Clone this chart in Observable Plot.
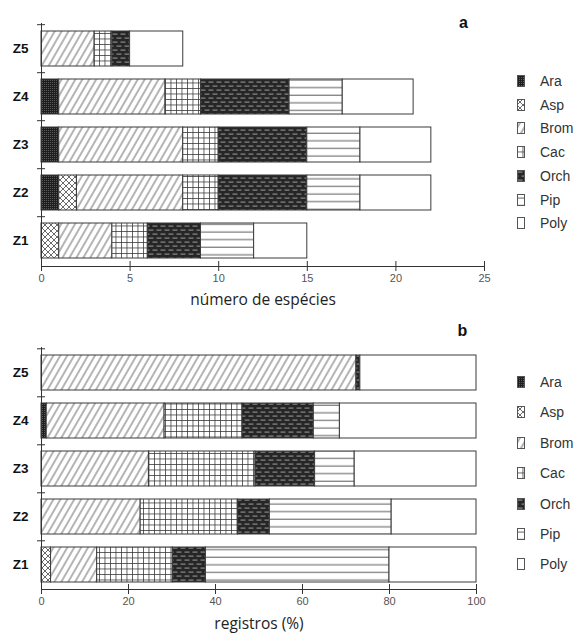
<!DOCTYPE html>
<html><head><meta charset="utf-8">
<script src="https://cdn.jsdelivr.net/npm/d3@7"></script>
<script src="https://cdn.jsdelivr.net/npm/@observablehq/plot@0.6"></script>
<style>
body{margin:0;background:#fff;}
#wrap{position:relative;width:577px;height:635px;overflow:hidden;}
#wrap > svg{position:absolute;left:0;}
.legend{position:absolute;left:0;top:0;font-family:Arial,"Liberation Sans",sans-serif;font-size:14px;color:#333;}
.item{position:absolute;white-space:nowrap;}
.item svg{position:absolute;left:0;}
.item span{position:absolute;left:23px;line-height:16px;}
</style></head><body>
<svg width="0" height="0" style="position:absolute">
<defs>
  <pattern id="pat-Ara" patternUnits="userSpaceOnUse" width="2" height="2">
    <rect width="2" height="2" fill="#1e1e1e"/><rect width="1" height="1" fill="#5a5a5a"/>
  </pattern>
  <pattern id="pat-Asp" patternUnits="userSpaceOnUse" width="6" height="6">
    <rect width="6" height="6" fill="#fff"/>
    <path d="M0,0L6,6M6,0L0,6" stroke="#444" stroke-width="0.8"/>
  </pattern>
  <pattern id="pat-Brom" patternUnits="userSpaceOnUse" width="6" height="6" patternTransform="rotate(30)">
    <rect width="6" height="6" fill="#fff"/>
    <line x1="3" y1="0" x2="3" y2="6" stroke="#444" stroke-width="0.8"/>
  </pattern>
  <pattern id="pat-Cac" patternUnits="userSpaceOnUse" width="5.5" height="5.5">
    <rect width="5.5" height="5.5" fill="#fff"/>
    <path d="M0,0.4H5.5M0.4,0V5.5" stroke="#333" stroke-width="0.8"/>
  </pattern>
  <pattern id="pat-Orch" patternUnits="userSpaceOnUse" width="8" height="8">
    <rect width="8" height="8" fill="#262626"/>
    <rect x="0.5" y="1.5" width="5" height="1.2" fill="#8a8a8a"/>
    <rect x="4.5" y="5.5" width="5" height="1.2" fill="#8a8a8a"/>
    <rect x="-3.5" y="5.5" width="5" height="1.2" fill="#8a8a8a"/>
  </pattern>
  <pattern id="pat-Pip" patternUnits="userSpaceOnUse" width="8" height="7.6">
    <rect width="8" height="7.6" fill="#fff"/>
    <line x1="0" y1="4" x2="8" y2="4" stroke="#444" stroke-width="0.9"/>
  </pattern>
  <pattern id="pat-Poly" patternUnits="userSpaceOnUse" width="4" height="4">
    <rect width="4" height="4" fill="#fff"/>
  </pattern>
</defs></svg>
<div id="wrap"></div>
<script>
// categories (values listed in order Z1..Z5)
const zones = ["Z1","Z2","Z3","Z4","Z5"];
const species = ["Ara","Asp","Brom","Cac","Orch","Pip","Poly"];

// panel a: número de espécies
const araA  = [0, 1, 1, 1, 0];
const aspA  = [1, 1, 0, 0, 0];
const bromA = [3, 6, 7, 6, 3];
const cacA  = [2, 2, 2, 2, 1];
const orchA = [3, 5, 5, 5, 1];
const pipA  = [3, 3, 3, 3, 0];
const polyA = [3, 4, 4, 4, 3];

// panel b: registros (%)
const araB  = [0, 0, 0, 1.2, 0];
const aspB  = [2.2, 0, 0, 0, 0];
const bromB = [10.6, 22.8, 24.7, 27.1, 72.4];
const cacB  = [17.4, 22.4, 24.5, 17.9, 0];
const orchB = [7.6, 7.3, 13.7, 16.4, 0.9];
const pipB  = [42.2, 28.0, 9.1, 6.0, 0];
const polyB = [20.0, 19.5, 28.0, 31.4, 26.7];

const ticksA = [0, 5, 10, 15, 20, 25];
const ticksB = [0, 20, 40, 60, 80, 100];

function rowsOf(series) {
  const rows = [];
  species.forEach((s, k) => series[k].forEach((v, i) => { if (v > 0) rows.push({zone: zones[i], species: s, value: v}); }));
  return rows;
}

const font = "Arial, 'Liberation Sans', sans-serif";

function panel({rows, ticks, xLabel, letter, height, marginTop, marginBottom, marginRight, labelDy, letterDx, letterDy}) {
  const step = (height - marginTop - marginBottom) / zones.length;
  return Plot.plot({
    width: 577, height, marginTop, marginBottom, marginLeft: 41, marginRight,
    style: {fontFamily: font, fontSize: "11px", color: "#222", background: "white", overflow: "visible"},
    x: {domain: [ticks[0], ticks[ticks.length - 1]], ticks},
    y: {domain: zones.slice().reverse(), paddingInner: 0.28, paddingOuter: 0.14},
    color: {domain: species, range: species.map(s => `url(#pat-${s})`)},
    marks: [
      Plot.barX(rows, Plot.stackX({x: "value", y: "zone", fill: "species", stroke: "#3a3a3a", strokeWidth: 1})),
      Plot.frame({anchor: "bottom", stroke: "#333"}),
      Plot.ruleX([0], {stroke: "#333"}),
      Plot.axisX({ticks, text: null, tickSize: 10, dy: -5, stroke: "#333", label: null}),
      Plot.axisX({ticks, tickSize: 0, tickPadding: 8, fill: "#555", fontSize: 11, label: null}),
      Plot.axisY({text: null, tickSize: 8, dx: 4, dy: -step / 2, stroke: "#333", label: null}),
      Plot.axisY({tickSize: 0, tickPadding: 13, fontWeight: "bold", fontSize: 13.5, fill: "#111", label: null}),
      Plot.text([xLabel], {text: d => d, frameAnchor: "bottom", lineAnchor: "middle", dy: labelDy, fontSize: 15.5, fontFamily: "'Open Sans', sans-serif", fill: "#222"}),
      Plot.text([letter], {text: d => d, frameAnchor: "top-right", textAnchor: "middle", lineAnchor: "middle", dx: letterDx, dy: letterDy, fontSize: 16, fontWeight: "bold", fill: "#111"})
    ]
  });
}

const wrap = document.getElementById("wrap");

const svgA = panel({
  rows: rowsOf([araA, aspA, bromA, cacA, orchA, pipA, polyA]),
  ticks: ticksA, xLabel: "número de espécies", letter: "a",
  height: 310, marginTop: 23, marginBottom: 44, marginRight: 93,
  labelDy: 34, letterDx: -21, letterDy: -1
});
svgA.style.top = "0px";
wrap.appendChild(svgA);

const svgB = panel({
  rows: rowsOf([araB, aspB, bromB, cacB, orchB, pipB, polyB]),
  ticks: ticksB, xLabel: "registros (%)", letter: "b",
  height: 325, marginTop: 37, marginBottom: 46, marginRight: 101,
  labelDy: 35, letterDx: -14, letterDy: -17
});
svgB.style.top = "310px";
wrap.appendChild(svgB);

function legend(top, spacing) {
  const div = document.createElement("div");
  div.className = "legend";
  species.forEach((s, i) => {
    const item = document.createElement("div");
    item.className = "item";
    item.style.left = "517px";
    item.style.top = (top + i * spacing - 8) + "px";
    item.innerHTML = `<svg width="8" height="13" style="top:2px"><rect x="0.5" y="0.5" width="7" height="11" fill="url(#pat-${s})" stroke="#555" stroke-width="1"/></svg><span>${s}</span>`;
    div.appendChild(item);
  });
  wrap.appendChild(div);
}
legend(81, 23.7);
legend(382, 30.4);
</script>
</body></html>
